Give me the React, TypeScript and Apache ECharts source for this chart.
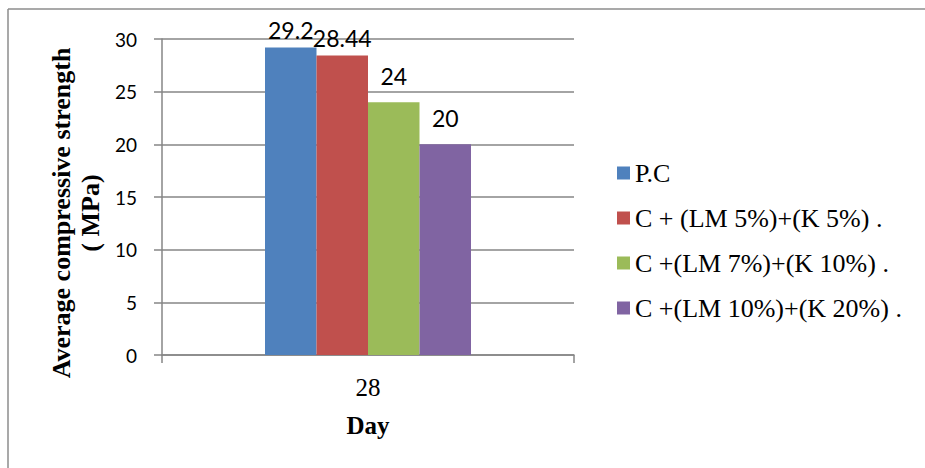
import React, { useEffect, useRef } from "react";
import * as echarts from "echarts";

// Curing age (days) on the category axis
const categories = ["28"];

// Mix designations shown in the legend
const seriesNames = [
  "P.C",
  "C + (LM 5%)+(K 5%) .",
  "C +(LM 7%)+(K 10%) .",
  "C +(LM 10%)+(K 20%) .",
];

// Average compressive strength (MPa) per mix
const pcValues = [29.2];
const lm5k5Values = [28.44];
const lm7k10Values = [24];
const lm10k20Values = [20];

const yTicks = { min: 0, max: 30, interval: 5 };

const colors = ["#4F81BD", "#C0504D", "#9BBB59", "#8064A2"];
const seriesValues = [pcValues, lm5k5Values, lm7k10Values, lm10k20Values];
// Label clearance above each bar
const labelDistances = [6, 6, 15, 15];

const AXIS_GRAY = "#868686";
const SERIF = "Liberation Serif";
const SANS = "Lato";

export default function App() {
  const ref = useRef<HTMLDivElement>(null);

  useEffect(() => {
    if (!ref.current) return;
    const chart = echarts.init(ref.current, undefined, { renderer: "svg" });

    chart.setOption({
      animation: false,
      backgroundColor: "#ffffff",
      grid: { left: 162, right: 351, top: 39, bottom: 113, containLabel: false },
      legend: {
        orient: "vertical",
        left: 617,
        top: 160,
        padding: 0,
        itemWidth: 13,
        itemHeight: 13,
        itemGap: 19,
        icon: "rect",
        textStyle: { fontFamily: SERIF, fontSize: 26, lineHeight: 26, color: "#000" },
        data: seriesNames,
      },
      xAxis: {
        type: "category",
        data: categories,
        axisLine: { show: true, lineStyle: { color: AXIS_GRAY, width: 1.5 } },
        axisTick: { show: true, length: 8, alignWithLabel: false, lineStyle: { color: AXIS_GRAY, width: 1.5 } },
        axisLabel: { fontFamily: SERIF, fontSize: 25, color: "#000", margin: 20 },
        name: "Day",
        nameLocation: "middle",
        nameGap: 58,
        nameTextStyle: { fontFamily: SERIF, fontSize: 25, fontWeight: "bold", color: "#000" },
      },
      yAxis: {
        type: "value",
        min: yTicks.min,
        max: yTicks.max,
        interval: yTicks.interval,
        axisLine: { show: true, lineStyle: { color: AXIS_GRAY, width: 1.5 } },
        axisTick: { show: true, length: 8, lineStyle: { color: AXIS_GRAY, width: 1.5 } },
        splitLine: { show: true, lineStyle: { color: AXIS_GRAY, width: 1.5 } },
        axisLabel: { fontFamily: SANS, fontSize: 19, color: "#000", margin: 25 },
      },
      series: seriesNames.map((name, i) => ({
        name,
        type: "bar",
        data: seriesValues[i],
        barGap: "0%",
        barCategoryGap: "50%",
        itemStyle: { color: colors[i] },
        label: {
          show: true,
          position: "top",
          distance: labelDistances[i],
          fontFamily: SANS,
          fontSize: 23,
          color: "#000",
        },
      })),
      graphic: [
        {
          type: "text",
          x: 76,
          y: 213,
          rotation: Math.PI / 2,
          style: {
            text: "Average compressive strength\n( MPa)",
            fontFamily: SERIF,
            fontSize: 26,
            fontWeight: "bold",
            lineHeight: 29,
            fill: "#000",
            align: "center",
            verticalAlign: "middle",
          },
        },
        {
          type: "line",
          shape: { x1: 8, y1: 9, x2: 925, y2: 9 },
          style: { stroke: "#8c8c8c", lineWidth: 1.5 },
        },
        {
          type: "line",
          shape: { x1: 8, y1: 9, x2: 8, y2: 468 },
          style: { stroke: "#8c8c8c", lineWidth: 1.5 },
        },
      ],
    });

    return () => chart.dispose();
  }, []);

  return (
    <div
      ref={ref}
      style={{ position: "fixed", left: 0, top: 0, width: 925, height: 468 }}
    />
  );
}
